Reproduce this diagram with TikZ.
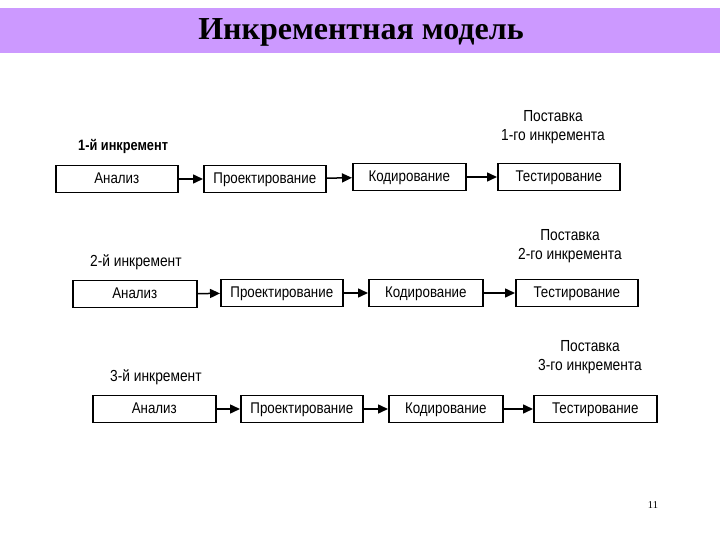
\documentclass[tikz,border=0pt]{standalone}
\usepackage{fontspec}
\setmainfont{Liberation Serif}
\newfontfamily\boxfont{Liberation Sans}
\usetikzlibrary{arrows.meta}
\definecolor{barcol}{HTML}{CC99FF}
\begin{document}
\begin{tikzpicture}[x=1pt,y=-1pt,
  stage/.style={draw=black,line width=1.6pt,minimum height=27pt,inner sep=0pt,
    text height=11pt,text depth=2pt,
    font=\boxfont\fontsize{15.5}{15.5}\selectfont,anchor=west},
  lbl/.style={font=\boxfont\fontsize{16}{19}\selectfont,inner sep=0pt},
  flow/.style={line width=1.5pt,-{Triangle[length=10pt,width=9pt]}}]
\useasboundingbox (0,0) rectangle (720,540);
\fill[barcol] (0,8) rectangle (720,53);
\node[font=\bfseries\fontsize{32}{32}\selectfont] (title) at (361,32) {Инкрементная модель};
\node[font=\fontsize{10.5}{10.5}\selectfont] (pg) at (653,505) {11};
% row 1
\node[stage,minimum width=122pt] (a1) at (55,179) {\scalebox{0.86}[1]{Анализ}};
\node[stage,minimum width=122pt] (p1) at (203,179) {\scalebox{0.86}[1]{Проектирование}};
\node[stage,minimum width=113pt] (k1) at (352,177) {\scalebox{0.86}[1]{Кодирование}};
\node[stage,minimum width=122pt] (t1) at (497,177) {\scalebox{0.86}[1]{Тестирование}};
\node[lbl,font=\boxfont\bfseries\fontsize{15}{15}\selectfont,anchor=west] (l1) at (78,146) {\scalebox{0.85}[1]{1-й инкремент}};
\node[lbl,align=center] (d1) at (553,127) {\scalebox{0.86}[1]{Поставка}\\\scalebox{0.86}[1]{1-го инкремента}};
\draw[flow] (a1) -- (p1);
\draw[flow] (p1) -- (k1);
\draw[flow] (k1) -- (t1);
% row 2
\node[stage,minimum width=124pt] (a2) at (72,294) {\scalebox{0.86}[1]{Анализ}};
\node[stage,minimum width=122pt] (p2) at (220,293) {\scalebox{0.86}[1]{Проектирование}};
\node[stage,minimum width=114pt] (k2) at (368,293) {\scalebox{0.86}[1]{Кодирование}};
\node[stage,minimum width=122pt] (t2) at (515,293) {\scalebox{0.86}[1]{Тестирование}};
\node[lbl,anchor=west] (l2) at (90,262) {\scalebox{0.86}[1]{2-й инкремент}};
\node[lbl,align=center] (d2) at (570,246) {\scalebox{0.86}[1]{Поставка}\\\scalebox{0.86}[1]{2-го инкремента}};
\draw[flow] (a2) -- (p2);
\draw[flow] (p2) -- (k2);
\draw[flow] (k2) -- (t2);
% row 3
\node[stage,minimum width=123pt] (a3) at (92,409) {\scalebox{0.86}[1]{Анализ}};
\node[stage,minimum width=122pt] (p3) at (240,409) {\scalebox{0.86}[1]{Проектирование}};
\node[stage,minimum width=114pt] (k3) at (388,409) {\scalebox{0.86}[1]{Кодирование}};
\node[stage,minimum width=123pt] (t3) at (533,409) {\scalebox{0.86}[1]{Тестирование}};
\node[lbl,anchor=west] (l3) at (110,377) {\scalebox{0.86}[1]{3-й инкремент}};
\node[lbl,align=center] (d3) at (590,357) {\scalebox{0.86}[1]{Поставка}\\\scalebox{0.86}[1]{3-го инкремента}};
\draw[flow] (a3) -- (p3);
\draw[flow] (p3) -- (k3);
\draw[flow] (k3) -- (t3);
\end{tikzpicture}
\end{document}
